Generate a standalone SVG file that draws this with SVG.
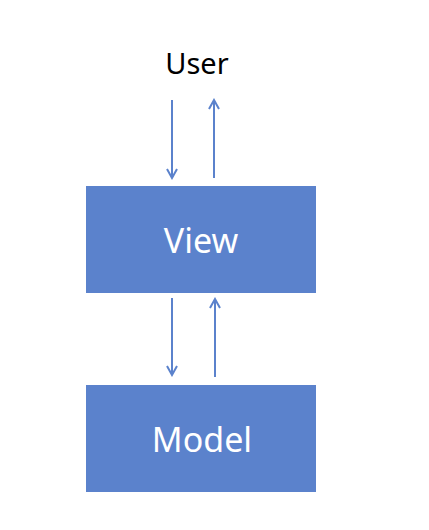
<svg xmlns="http://www.w3.org/2000/svg" width="429" height="530" viewBox="0 0 429 530">
<style>
.box{fill:#5B82CC}
.lbl{font-family:"Noto Sans","Open Sans",sans-serif;font-size:29px;text-anchor:middle}
.w{fill:#ffffff;font-size:34px}
.c{stroke:#5B82CC;stroke-width:2;fill:none}
</style>
<defs>
<marker id="ah" viewBox="0 0 12 12" refX="10" refY="6" markerWidth="12" markerHeight="12" markerUnits="userSpaceOnUse" orient="auto">
<polyline points="1,1 10,6 1,11" fill="none" stroke="#5B82CC" stroke-width="2"/>
</marker>
</defs>
<rect width="429" height="530" fill="#ffffff"/>
<g id="user"><text class="lbl" x="197" y="74" fill="#000000">User</text></g>
<g id="view"><rect class="box" x="86" y="186" width="230" height="107"/><text class="lbl w" x="201" y="253">View</text></g>
<g id="model"><rect class="box" x="86" y="385" width="230" height="107"/><text class="lbl w" x="202" y="452">Model</text></g>
<g id="connectors">
<line class="c" x1="172" y1="100" x2="172" y2="178" marker-end="url(#ah)"/>
<line class="c" x1="214" y1="178" x2="214" y2="100" marker-end="url(#ah)"/>
<line class="c" x1="172" y1="298" x2="172" y2="375" marker-end="url(#ah)"/>
<line class="c" x1="215" y1="377" x2="215" y2="299" marker-end="url(#ah)"/>
</g>
</svg>
